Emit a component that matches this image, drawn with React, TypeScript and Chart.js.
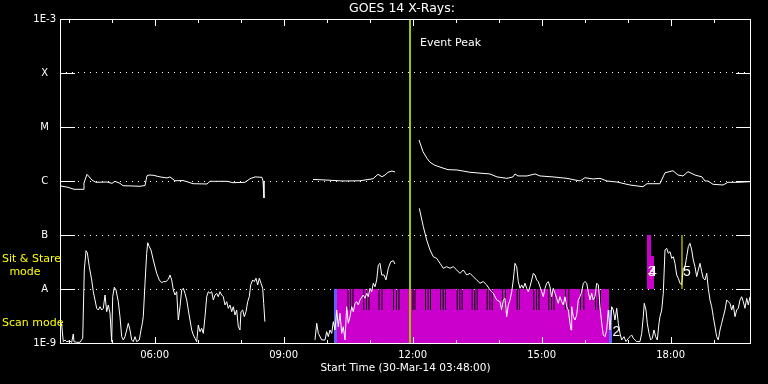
import React, { useEffect, useRef } from 'react';
import { Chart, registerables } from 'chart.js';

Chart.register(...registerables);

// ---------- text ----------
const TITLE = 'GOES 14 X-Rays:';
const X_TITLE = 'Start Time (30-Mar-14 03:48:00)';
const EVENT_LABEL = 'Event Peak';

// ---------- axes ----------
const X_MIN = 3.8; // 03:48
const X_MAX = 19.87;
const hourTicks = [4, 5, 6, 7, 8, 9, 10, 11, 12, 13, 14, 15, 16, 17, 18, 19];
const hourLabels: Record<number, string> = { 6: '06:00', 9: '09:00', 12: '12:00', 15: '15:00', 18: '18:00' };
const yTickValues = [1e-9, 1e-8, 1e-7, 1e-6, 1e-5, 1e-4, 1e-3];
const yTickLabels = ['1E-9', 'A', 'B', 'C', 'M', 'X', '1E-3'];

// ---------- long channel (1-8 A) [hour, W/m2] ----------
const longSeg1: [number, number][] = [
  [3.823, 8.08e-7], [3.986, 7.64e-7], [4.126, 7.02e-7], [4.335, 7.02e-7], [4.358, 9.18e-7], [4.428, 1.33e-6],
  [4.544, 1.04e-6], [4.637, 9.46e-7], [4.893, 9.58e-7], [5.009, 9.06e-7], [5.079, 9.87e-7], [5.195, 9.06e-7],
  [5.265, 8.18e-7], [5.498, 8.08e-7], [5.660, 7.98e-7], [5.777, 8.25e-7], [5.823, 1.25e-6], [5.870, 1.29e-6],
  [5.963, 1.28e-6], [6.126, 1.19e-6], [6.288, 1.14e-6], [6.358, 1.19e-6], [6.474, 1.01e-6], [6.660, 1.02e-6],
  [6.753, 9.71e-7], [6.893, 8.91e-7], [7.219, 8.80e-7], [7.288, 9.87e-7], [7.684, 9.87e-7], [7.823, 9.30e-7],
  [8.102, 9.46e-7], [8.219, 1.10e-6], [8.335, 1.19e-6], [8.498, 1.17e-6], [8.521, 1.00e-6], [8.544, 4.84e-7],
];
const longSeg2: [number, number][] = [
  [9.684, 1.07e-6], [10.009, 1.04e-6], [10.381, 1.00e-6], [10.777, 1.01e-6], [11.079, 1.10e-6], [11.195, 1.33e-6],
  [11.288, 1.20e-6], [11.358, 1.29e-6], [11.428, 1.45e-6], [11.521, 1.53e-6], [11.591, 1.47e-6],
];
const longSeg3: [number, number][] = [
  [12.149, 5.75e-6], [12.242, 3.49e-6], [12.335, 2.63e-6], [12.405, 2.22e-6], [12.521, 1.95e-6], [12.684, 1.76e-6],
  [12.823, 1.62e-6], [13.033, 1.60e-6], [13.335, 1.45e-6], [13.800, 1.35e-6], [13.963, 1.19e-6], [14.195, 1.12e-6],
  [14.335, 1.19e-6], [14.381, 1.35e-6], [14.451, 1.24e-6], [14.660, 1.24e-6], [14.847, 1.35e-6], [14.963, 1.24e-6],
  [15.265, 1.19e-6], [15.591, 1.12e-6], [15.893, 1.00e-6], [16.009, 1.15e-6], [16.195, 1.09e-6], [16.358, 1.12e-6],
  [16.521, 1.00e-6], [16.753, 9.58e-7], [17.056, 8.43e-7], [17.358, 7.84e-7], [17.451, 8.91e-7], [17.753, 8.91e-7],
  [17.870, 1.42e-6], [18.056, 1.55e-6], [18.172, 1.29e-6], [18.288, 1.24e-6], [18.405, 1.49e-6], [18.567, 1.29e-6],
  [18.730, 1.19e-6], [18.800, 1.00e-6], [18.870, 1.00e-6], [18.986, 8.69e-7], [19.219, 8.43e-7], [19.335, 9.46e-7],
  [19.567, 9.46e-7], [19.847, 9.71e-7],
];

// ---------- short channel (0.5-4 A) [hour, W/m2] ----------
const shortSeg1: [number, number][] = [
  [3.800, 2.67e-9], [3.840, 2.15e-9], [3.877, 1.06e-9], [3.916, 1.14e-9], [3.956, 1.06e-9], [4.016, 1.09e-9],
  [4.072, 1.03e-9], [4.109, 1.47e-9], [4.126, 1.06e-9], [4.188, 1.03e-9], [4.265, 1.03e-9], [4.328, 1.22e-9],
  [4.365, 2.25e-8], [4.405, 5.12e-8], [4.435, 4.70e-8], [4.481, 2.59e-8], [4.537, 1.47e-8], [4.574, 8.9e-9],
  [4.614, 6.26e-9], [4.653, 4.39e-9], [4.691, 4.08e-9], [4.730, 4.70e-9], [4.770, 4.08e-9], [4.807, 4.39e-9],
  [4.847, 7.74e-9], [4.886, 3.80e-9], [4.923, 5.06e-9], [4.963, 3.55e-9], [5.002, 1.06e-9], [5.026, 7.20e-9],
  [5.063, 1.08e-8], [5.102, 9.58e-9], [5.156, 5.82e-9], [5.195, 3.07e-9], [5.235, 1.31e-9], [5.272, 1.14e-9],
  [5.312, 1.31e-9], [5.351, 1.74e-9], [5.388, 2.32e-9], [5.428, 1.74e-9], [5.467, 1.14e-9], [5.505, 1.06e-9],
  [5.544, 1.31e-9], [5.584, 1.06e-9], [5.644, 1.14e-9], [5.684, 1.74e-9], [5.714, 2.32e-9], [5.737, 3.07e-9],
  [5.777, 1.28e-8], [5.816, 4.58e-8], [5.840, 7.20e-8], [5.877, 6.07e-8], [5.916, 5.28e-8], [5.970, 3.44e-8],
  [6.049, 1.95e-8], [6.109, 1.47e-8], [6.165, 1.31e-8], [6.202, 1.37e-8], [6.265, 1.37e-8], [6.319, 1.51e-8],
  [6.358, 1.82e-8], [6.398, 1.47e-8], [6.435, 9.58e-9], [6.474, 7.74e-9], [6.514, 8.9e-9], [6.551, 2.67e-9],
  [6.591, 4.70e-9], [6.630, 9.58e-9], [6.667, 1.03e-8], [6.707, 8.32e-9], [6.747, 6.26e-9], [6.784, 4.08e-9],
  [6.823, 2.67e-9], [6.863, 1.74e-9], [6.900, 1.41e-9], [6.940, 1.22e-9], [6.979, 1.06e-9], [7.016, 2.15e-9],
  [7.056, 1.62e-9], [7.095, 1.87e-9], [7.133, 1.51e-9], [7.172, 3.07e-9], [7.212, 7.20e-9], [7.249, 8.9e-9],
  [7.288, 8.32e-9], [7.328, 8.9e-9], [7.365, 6.26e-9], [7.405, 7.74e-9], [7.444, 8.32e-9], [7.481, 7.20e-9],
  [7.521, 8.9e-9], [7.560, 7.74e-9], [7.598, 7.20e-9], [7.637, 5.06e-9], [7.677, 5.82e-9], [7.714, 4.39e-9],
  [7.753, 5.06e-9], [7.793, 3.80e-9], [7.830, 4.70e-9], [7.870, 3.30e-9], [7.909, 4.08e-9], [7.947, 2.00e-9],
  [7.986, 1.74e-9], [8.009, 3.80e-9], [8.049, 4.08e-9], [8.086, 3.07e-9], [8.126, 3.80e-9], [8.165, 5.82e-9],
  [8.202, 7.20e-9], [8.235, 1.19e-8], [8.281, 1.47e-8], [8.319, 1.37e-8], [8.358, 1.58e-8], [8.398, 1.19e-8],
  [8.435, 1.58e-8], [8.474, 1.28e-8], [8.514, 1.03e-8], [8.537, 5.43e-9], [8.565, 2.48e-9],
];
const shortSeg2: [number, number][] = [
  [9.730, 1.14e-9], [9.770, 2.32e-9], [9.807, 1.51e-9], [9.886, 1.14e-9], [9.963, 1.14e-9], [10.002, 1.62e-9],
  [10.040, 1.31e-9], [10.079, 1.74e-9], [10.119, 1.51e-9], [10.156, 2.48e-9], [10.195, 1.74e-9], [10.235, 4.08e-9],
  [10.272, 2.00e-9], [10.312, 3.55e-9], [10.351, 1.51e-9], [10.388, 2.00e-9], [10.428, 1.14e-9], [10.467, 4.70e-9],
  [10.505, 2.32e-9], [10.544, 3.07e-9], [10.584, 4.70e-9], [10.621, 3.80e-9], [10.660, 5.43e-9], [10.700, 5.82e-9],
  [10.737, 5.06e-9], [10.777, 6.26e-9], [10.853, 7.74e-9], [10.893, 6.73e-9], [10.933, 8.32e-9], [10.970, 7.20e-9],
  [11.009, 1.03e-8], [11.049, 8.9e-9], [11.086, 1.28e-8], [11.126, 1.10e-8], [11.165, 1.47e-8], [11.202, 2.78e-8],
  [11.242, 2.99e-8], [11.281, 1.82e-8], [11.335, 1.82e-8], [11.381, 1.47e-8], [11.435, 2.42e-8], [11.491, 3.20e-8],
  [11.551, 3.34e-8], [11.591, 2.90e-8],
];
const shortSeg3: [number, number][] = [
  [12.156, 3.12e-7], [12.249, 1.43e-7], [12.328, 8.08e-8], [12.405, 5.28e-8], [12.481, 3.96e-8], [12.560, 3.70e-8],
  [12.637, 2.99e-8], [12.714, 2.42e-8], [12.793, 2.59e-8], [12.870, 2.42e-8], [12.947, 2.59e-8], [13.026, 2.25e-8],
  [13.102, 1.95e-8], [13.179, 2.25e-8], [13.258, 1.82e-8], [13.335, 1.95e-8], [13.412, 1.69e-8], [13.491, 1.47e-8],
  [13.567, 1.28e-8], [13.644, 1.37e-8], [13.723, 1.19e-8], [13.800, 9.58e-9], [13.877, 8.32e-9], [13.956, 6.26e-9],
  [14.033, 5.82e-9], [14.072, 4.08e-9], [14.109, 6.26e-9], [14.149, 6.73e-9], [14.188, 3.07e-9], [14.226, 5.06e-9],
  [14.265, 6.26e-9], [14.305, 8.9e-9], [14.342, 1.47e-8], [14.381, 2.99e-8], [14.421, 2.59e-8], [14.458, 1.37e-8],
  [14.498, 1.03e-8], [14.537, 1.19e-8], [14.574, 1.03e-8], [14.614, 1.28e-8], [14.653, 1.03e-8], [14.691, 8.9e-9],
  [14.730, 1.10e-8], [14.770, 1.47e-8], [14.807, 1.95e-8], [14.847, 1.82e-8], [14.886, 1.47e-8], [14.923, 1.37e-8],
  [14.963, 1.10e-8], [15.002, 8.9e-9], [15.040, 7.20e-9], [15.079, 1.03e-8], [15.119, 1.28e-8], [15.156, 1.37e-8],
  [15.195, 1.10e-8], [15.235, 7.20e-9], [15.272, 1.03e-8], [15.312, 8.32e-9], [15.351, 6.73e-9], [15.388, 5.43e-9],
  [15.428, 7.20e-9], [15.467, 5.82e-9], [15.505, 5.06e-9], [15.544, 7.20e-9], [15.584, 4.70e-9], [15.621, 4.08e-9],
  [15.660, 2.32e-9], [15.684, 1.74e-9], [15.700, 4.70e-9], [15.737, 3.07e-9], [15.777, 2.67e-9], [15.816, 3.30e-9],
  [15.853, 6.26e-9], [15.893, 7.20e-9], [15.933, 8.9e-9], [15.970, 1.28e-8], [16.009, 1.37e-8], [16.049, 1.28e-8],
  [16.086, 8.9e-9], [16.126, 6.26e-9], [16.165, 8.32e-9], [16.202, 6.26e-9], [16.242, 7.20e-9], [16.281, 1.28e-8],
  [16.319, 1.19e-8], [16.358, 4.70e-9], [16.398, 2.32e-9], [16.435, 1.41e-9], [16.474, 1.31e-9], [16.514, 1.74e-9],
  [16.551, 4.08e-9], [16.591, 1.74e-9], [16.630, 4.70e-9], [16.667, 4.08e-9], [16.707, 2.67e-9], [16.747, 4.39e-9],
  [16.784, 2.32e-9], [16.823, 1.51e-9], [16.863, 1.14e-9], [16.916, 1.31e-9], [16.963, 1.06e-9], [17.016, 1.22e-9],
  [17.056, 1.31e-9], [17.095, 1.41e-9], [17.133, 1.22e-9], [17.172, 1.14e-9], [17.212, 1.06e-9], [17.288, 1.06e-9],
  [17.328, 1.51e-9], [17.365, 3.07e-9], [17.388, 5.43e-9], [17.428, 4.08e-9], [17.458, 2.32e-9], [17.498, 1.51e-9],
  [17.537, 1.14e-9], [17.574, 1.22e-9], [17.614, 1.74e-9], [17.653, 1.31e-9], [17.691, 1.14e-9], [17.730, 2.32e-9],
  [17.753, 3.07e-9], [17.793, 4.08e-9], [17.830, 8.32e-9], [17.870, 5.28e-8], [17.909, 5.67e-8], [17.947, 4.58e-8],
  [17.986, 4.91e-8], [18.026, 3.70e-8], [18.063, 3.96e-8], [18.102, 2.99e-8], [18.142, 1.82e-8], [18.179, 1.58e-8],
  [18.219, 1.28e-8], [18.258, 1.19e-8], [18.295, 2.42e-8], [18.335, 2.59e-8], [18.374, 3.96e-8], [18.412, 6.07e-8],
  [18.451, 7.02e-8], [18.491, 5.28e-8], [18.528, 3.44e-8], [18.567, 2.59e-8], [18.607, 1.69e-8], [18.644, 2.25e-8],
  [18.684, 2.99e-8], [18.723, 2.09e-8], [18.760, 1.58e-8], [18.800, 1.47e-8], [18.840, 1.95e-8], [18.877, 1.03e-8],
  [18.916, 6.26e-9], [18.956, 4.70e-9], [18.993, 3.07e-9], [19.033, 2.00e-9], [19.072, 1.31e-9], [19.109, 1.14e-9],
  [19.149, 1.74e-9], [19.188, 2.32e-9], [19.226, 3.07e-9], [19.265, 4.08e-9], [19.305, 6.26e-9], [19.342, 5.82e-9],
  [19.381, 5.43e-9], [19.421, 4.08e-9], [19.458, 5.06e-9], [19.498, 3.07e-9], [19.537, 4.08e-9], [19.574, 4.39e-9],
  [19.614, 6.26e-9], [19.653, 7.20e-9], [19.691, 5.82e-9], [19.730, 4.39e-9], [19.770, 6.73e-9], [19.807, 5.06e-9],
  [19.847, 7.20e-9],
];

// ---------- observing mode ----------
const scanBlueStart = 10.172;
const scanStart = 10.242;
const scanEnd = 16.567;
const scanBlueEnd = 16.637;
const MODE_HIGH = 1e-8;
const MODE_LOW = 4.08e-9;
const modeSwitchDuration = 0.023; // hours
const modeSwitchTimes = [
  10.486, 10.544, 10.602, 10.853, 10.916, 10.974, 11.207, 11.277, 11.544, 11.614, 11.672,
  11.998, 12.044, 12.288, 12.351, 12.405, 12.637, 12.700, 12.753, 13.026, 13.086, 13.142,
  13.374, 13.435, 13.491, 13.723, 13.784, 13.840, 14.079, 14.149, 14.421, 14.474,
  14.807, 14.870, 14.928, 15.156, 15.219, 15.277, 15.544, 15.621, 15.893, 15.970,
  16.242, 16.305, 16.358,
];
const sitStareTimes = [17.451, 17.544, 17.614];
const sitStareValues = [1e-7, 4.1e-8, 4.1e-8];

// ---------- markers ----------
const eventPeakTime = 11.94;
const yellowMarkTime = 18.265;
const yellowMarkRange = [1e-8, 1e-7];
const eventNumbers = [
  { text: '2', t: 16.65, v: 1.6e-9 },
  { text: '3', t: 17.47, v: 2.07e-8 },
  { text: '4', t: 17.50, v: 2.07e-8 },
  { text: '5', t: 18.29, v: 2.07e-8 },
];

type Pt = { x: number; y: number | null };
function joinSegments(segs: [number, number][][]): Pt[] {
  const out: Pt[] = [];
  segs.forEach((s, i) => {
    if (i > 0) {
      const prev = segs[i - 1];
      out.push({ x: (prev[prev.length - 1][0] + s[0][0]) / 2, y: null });
    }
    s.forEach(([x, y]) => out.push({ x, y }));
  });
  return out;
}

const FONT = 'DejaVu Sans';

const decorPlugin = {
  id: 'decor',
  beforeDraw(chart: any) {
    const { ctx, width, height } = chart;
    ctx.save();
    ctx.fillStyle = '#000';
    ctx.fillRect(0, 0, width, height);
    ctx.restore();
  },
  afterDatasetsDraw(chart: any) {
    const { ctx, chartArea: a, scales } = chart;
    const xs = scales.x;
    const ys = scales.y;
    ctx.save();
    ctx.strokeStyle = '#fff';
    ctx.lineWidth = 1;
    ctx.setLineDash([]);
    ctx.strokeRect(a.left + 0.5, a.top + 0.5, a.right - a.left - 1, a.bottom - a.top);
    ctx.beginPath();
    for (const t of xs.ticks) {
      const px = Math.round(xs.getPixelForValue(t.value)) + 0.5;
      const len = t.value % 3 === 0 ? 7 : 4;
      ctx.moveTo(px, a.top);
      ctx.lineTo(px, a.top + len);
      ctx.moveTo(px, a.bottom + 1);
      ctx.lineTo(px, a.bottom - len + 1);
    }
    for (const v of yTickValues.slice(1, -1)) {
      const py = Math.round(ys.getPixelForValue(v)) + 0.5;
      ctx.moveTo(a.left, py);
      ctx.lineTo(a.left + 15, py);
      ctx.moveTo(a.right - 15, py);
      ctx.lineTo(a.right, py);
    }
    ctx.stroke();

    ctx.fillStyle = '#fff';
    ctx.textBaseline = 'middle';
    ctx.textAlign = 'center';
    ctx.font = `12.5px ${FONT}`;
    ctx.fillText(TITLE, 402, 9);
    ctx.font = `10.5px ${FONT}`;
    ctx.fillText(X_TITLE, (a.left + a.right) / 2, 368);

    ctx.textAlign = 'left';
    ctx.font = `11px ${FONT}`;
    ctx.fillText(EVENT_LABEL, xs.getPixelForValue(eventPeakTime) + 10, 43);

    ctx.font = `14px 'Liberation Sans'`;
    for (const n of eventNumbers) {
      ctx.fillText(n.text, xs.getPixelForValue(n.t), ys.getPixelForValue(n.v));
    }

    ctx.fillStyle = '#ffff00';
    ctx.font = `11px ${FONT}`;
    ctx.fillText('Sit & Stare', 2, 259);
    ctx.textAlign = 'center';
    ctx.fillText('mode', 25, 272);
    ctx.textAlign = 'left';
    ctx.fillText('Scan mode', 2, 323);
    ctx.restore();
  },
};

export default function App() {
  const ref = useRef<HTMLCanvasElement | null>(null);

  useEffect(() => {
    document.body.style.margin = '0';
    document.body.style.background = '#000';
    if (!ref.current) return;

    const modePts: Pt[] = [{ x: scanStart, y: MODE_HIGH }];
    modeSwitchTimes.forEach((t) => {
      modePts.push({ x: t, y: MODE_LOW }, { x: t + modeSwitchDuration, y: MODE_HIGH });
    });
    modePts.push({ x: scanEnd, y: MODE_HIGH });

    const sitPts: Pt[] = sitStareTimes.map((t, i) => ({ x: t, y: sitStareValues[i] }));

    const base = { pointRadius: 0, pointHoverRadius: 0, tension: 0 };

    const chart = new Chart(ref.current, {
      type: 'line',
      data: {
        datasets: [
          { ...base, data: [{ x: eventPeakTime, y: 1e-9 }, { x: eventPeakTime, y: 1e-3 }], borderColor: '#a0c800', borderWidth: 2 },
          { ...base, data: [{ x: yellowMarkTime, y: yellowMarkRange[0] }, { x: yellowMarkTime, y: yellowMarkRange[1] }], borderColor: '#ffff00', borderWidth: 1 },
          { ...base, data: joinSegments([longSeg1, longSeg2, longSeg3]), borderColor: '#ffffff', borderWidth: 1, spanGaps: false },
          { ...base, data: joinSegments([shortSeg1, shortSeg2, shortSeg3]), borderColor: '#ffffff', borderWidth: 1, spanGaps: false },
          { ...base, data: [{ x: scanBlueStart, y: MODE_HIGH }, { x: scanStart, y: MODE_HIGH }], borderColor: 'rgba(0,0,0,0)', borderWidth: 0, backgroundColor: '#6060ff', fill: 'start', stepped: true },
          { ...base, data: [{ x: scanEnd, y: MODE_LOW }, { x: scanBlueEnd, y: MODE_LOW }], borderColor: 'rgba(0,0,0,0)', borderWidth: 0, backgroundColor: '#6060ff', fill: 'start', stepped: true },
          { ...base, data: modePts, borderColor: 'rgba(0,0,0,0)', borderWidth: 0, backgroundColor: '#cc00cc', fill: 'start', stepped: true },
          { ...base, data: sitPts, borderColor: 'rgba(0,0,0,0)', borderWidth: 0, backgroundColor: '#cc00cc', fill: { value: 1e-8 }, stepped: true },
        ] as any,
      },
      options: {
        animation: false,
        responsive: false,
        maintainAspectRatio: false,
        events: [],
        layout: { padding: { left: 0, right: 17, top: 19, bottom: 0 } },
        plugins: { legend: { display: false }, tooltip: { enabled: false }, title: { display: false } },
        scales: {
          x: {
            type: 'linear',
            min: X_MIN,
            max: X_MAX,
            afterBuildTicks: (s: any) => {
              s.ticks = hourTicks.map((v) => ({ value: v }));
            },
            afterFit: (s: any) => {
              s.height = 41;
            },
            ticks: {
              autoSkip: false,
              maxRotation: 0,
              minRotation: 0,
              padding: 6,
              color: '#ffffff',
              font: { family: FONT, size: 10 },
              callback: (v: any) => hourLabels[Number(v)] ?? '',
            },
            grid: { display: false, drawTicks: false },
            border: { display: false },
          },
          y: {
            type: 'logarithmic',
            min: 1e-9,
            max: 1e-3,
            afterBuildTicks: (s: any) => {
              s.ticks = yTickValues.map((v) => ({ value: v }));
            },
            afterFit: (s: any) => {
              s.width = 60;
            },
            ticks: {
              crossAlign: 'center',
              padding: 4,
              color: '#ffffff',
              font: { family: FONT, size: 10 },
              callback: (_v: any, i: number) => yTickLabels[i],
            },
            grid: {
              drawTicks: false,
              lineWidth: 1,
              color: (c: any) => {
                const v = c.tick ? c.tick.value : 0;
                return v === 1e-9 || v === 1e-3 ? 'rgba(0,0,0,0)' : '#ffffff';
              },
            },
            border: { display: false, dash: [1, 5] },
          },
        },
      } as any,
      plugins: [decorPlugin],
    });

    return () => chart.destroy();
  }, []);

  return <canvas ref={ref} width={768} height={384} style={{ display: 'block' }} />;
}
